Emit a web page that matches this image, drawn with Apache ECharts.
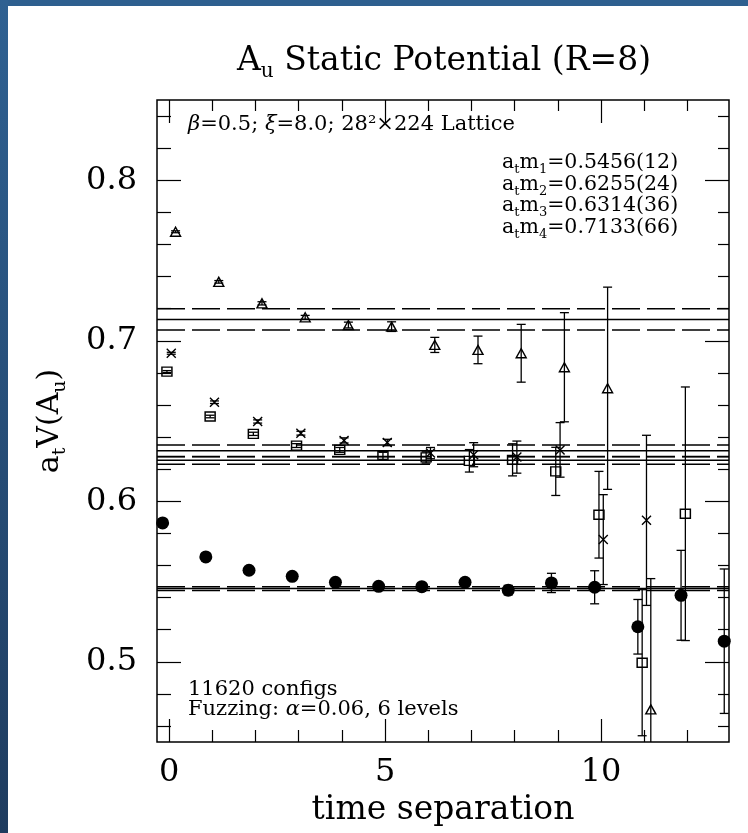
<!DOCTYPE html>
<html>
<head>
<meta charset="utf-8">
<script src="https://cdn.jsdelivr.net/npm/echarts@6/dist/echarts.min.js"></script>
<style>
html,body{margin:0;padding:0;background:#fff;}
#chart{width:748px;height:833px;}
</style>
</head>
<body>
<div id="chart"></div>
<script>
// ---------------- data ----------------
const timeSteps = [0, 1, 2, 3, 4, 5, 6, 7, 8, 9, 10, 11, 12, 13];

// level 1 (filled circles)
const level1Values = [0.5865, 0.5653, 0.5570, 0.5532, 0.5495, 0.5470, 0.5468, 0.5495, 0.5446, 0.5491, 0.5464, 0.5218, 0.5414, 0.5128];
const level1Errors = [0.0006, 0.0007, 0.0008, 0.0009, 0.0011, 0.0013, 0.0016, 0.0022, 0.0030, 0.0060, 0.0103, 0.0170, 0.0280, 0.0450];

// level 2 (open squares)
const level2Values = [0.6808, 0.6528, 0.6420, 0.6347, 0.6320, 0.6283, 0.6273, 0.6252, 0.6258, 0.6186, 0.5916, 0.4994, 0.5922];
const level2Errors = [0.0006, 0.0008, 0.0010, 0.0012, 0.0015, 0.0022, 0.0035, 0.0070, 0.0100, 0.0150, 0.0270, 0.0455, 0.0790];

// level 3 (crosses)
const level3Values = [0.6922, 0.6617, 0.6497, 0.6424, 0.6379, 0.6366, 0.6300, 0.6290, 0.6275, 0.6320, 0.5761, 0.5881];
const level3Errors = [0.0006, 0.0008, 0.0010, 0.0012, 0.0016, 0.0020, 0.0035, 0.0075, 0.0100, 0.0170, 0.0280, 0.0530];

// level 4 (open triangles)
const level4Values = [0.7679, 0.7367, 0.7233, 0.7146, 0.7098, 0.7088, 0.6974, 0.6943, 0.6922, 0.6835, 0.6704, 0.4703];
const level4Errors = [0.0006, 0.0008, 0.0010, 0.0012, 0.0018, 0.0030, 0.0047, 0.0086, 0.0180, 0.0340, 0.0630, 0.0815];

// fitted masses a_t m_i and errors
const fitMasses = [0.5456, 0.6255, 0.6314, 0.7133];
const fitErrors = [0.0012, 0.0024, 0.0036, 0.0066];

// axis ticks / labels
const xMajorTicks = [0, 5, 10];
const xMinorTicks = [1, 2, 3, 4, 6, 7, 8, 9, 11, 12];
const yMajorTicks = [0.5, 0.6, 0.7, 0.8];
const yMinorTicks = [0.46, 0.48, 0.52, 0.54, 0.56, 0.58, 0.62, 0.64, 0.66, 0.68, 0.72, 0.74, 0.76, 0.78, 0.82, 0.84];

// ---------------- layout / style ----------------
const FONT = 'DejaVu Serif';
const X_MIN = -0.28, X_MAX = 12.96, Y_MIN = 0.45, Y_MAX = 0.85;
const OFFSETS = [-0.15, -0.05, 0.05, 0.15];   // horizontal shift of each level
const INK = '#000';

function richMain(size, lh) {
  return { fontFamily: FONT, fontSize: size, lineHeight: lh, color: INK, fontWeight: 'normal' };
}
function richSub(size, lh) {
  return { fontFamily: FONT, fontSize: size, lineHeight: lh, color: INK, fontWeight: 'normal', verticalAlign: 'bottom' };
}
function richItal(size, lh) {
  return { fontFamily: FONT, fontSize: size, lineHeight: lh, color: INK, fontWeight: 'normal', fontStyle: 'italic' };
}

function mkX(position, ticks, len, withLabels) {
  const ax = {
    type: 'value', min: X_MIN, max: X_MAX, position: position, offset: 0,
    axisLine: { show: false, onZero: false },
    splitLine: { show: false },
    axisTick: { show: true, inside: true, length: len, customValues: ticks, lineStyle: { color: INK, width: 1.2 } },
    axisLabel: { show: false }
  };
  if (withLabels) {
    ax.axisLabel = {
      show: true, customValues: ticks, margin: 15,
      fontFamily: FONT, fontSize: 32, color: INK,
      formatter: function (v) { return String(Math.round(v)); }
    };
    ax.name = 'time separation';
    ax.nameLocation = 'middle';
    ax.nameGap = 48;
    ax.nameTextStyle = { fontFamily: FONT, fontSize: 33, color: INK };
  }
  return ax;
}

function mkY(position, ticks, len, withLabels) {
  const ax = {
    type: 'value', min: Y_MIN, max: Y_MAX, position: position, offset: 0,
    axisLine: { show: false, onZero: false },
    splitLine: { show: false },
    axisTick: { show: true, inside: true, length: len, customValues: ticks, lineStyle: { color: INK, width: 1.2 } },
    axisLabel: { show: false }
  };
  if (withLabels) {
    ax.axisLabel = {
      show: true, customValues: ticks, margin: 20,
      fontFamily: FONT, fontSize: 32, color: INK,
      formatter: function (v) { return v.toFixed(1); }
    };
    ax.name = '{n|a}{s|t}{n|V(A}{s|u}{n|)}';
    ax.nameLocation = 'middle';
    ax.nameRotate = 90;
    ax.nameGap = 87;
    ax.nameTextStyle = { rich: { n: richMain(30, 40), s: richSub(19, 18) } };
  }
  return ax;
}

function points(values, off) {
  return values.map(function (v, i) { return [timeSteps[i] + off, v]; });
}
function errRows(values, errs, off) {
  return values.map(function (v, i) { return [timeSteps[i] + off, v - errs[i], v + errs[i]]; });
}

function renderErr(params, api) {
  const x = api.value(0);
  const lo = api.coord([x, api.value(1)]);
  const hi = api.coord([x, api.value(2)]);
  const cw = 4.5;
  const st = { stroke: INK, lineWidth: 1.3 };
  return {
    type: 'group',
    children: [
      { type: 'line', shape: { x1: lo[0], y1: lo[1], x2: hi[0], y2: hi[1] }, style: st },
      { type: 'line', shape: { x1: lo[0] - cw, y1: lo[1], x2: lo[0] + cw, y2: lo[1] }, style: st },
      { type: 'line', shape: { x1: hi[0] - cw, y1: hi[1], x2: hi[0] + cw, y2: hi[1] }, style: st }
    ]
  };
}
function errSeries(values, errs, off) {
  return {
    type: 'custom', xAxisIndex: 0, yAxisIndex: 0, clip: true, silent: true, z: 3,
    renderItem: renderErr,
    encode: { x: 0, y: [1, 2] },
    data: errRows(values, errs, off)
  };
}

// fit bands: central value (solid) and +/- error (dashed), spanning the whole x range
const fitRows = [];
fitMasses.forEach(function (m, i) {
  fitRows.push([X_MIN, m, 0]);
  fitRows.push([X_MIN, m - fitErrors[i], 1]);
  fitRows.push([X_MIN, m + fitErrors[i], 1]);
});
function renderFit(params, api) {
  const v = api.value(1);
  const p1 = api.coord([X_MIN, v]);
  const p2 = api.coord([X_MAX, v]);
  return {
    type: 'line',
    shape: { x1: p1[0], y1: p1[1], x2: p2[0], y2: p2[1] },
    style: { stroke: INK, lineWidth: 1.5, lineDash: api.value(2) ? [28, 7] : null }
  };
}

const openStyle = { color: 'rgba(0,0,0,0)', borderColor: INK, borderWidth: 1.4, opacity: 1 };

const chart = echarts.init(document.getElementById('chart'), null, { renderer: 'canvas' });
chart.setOption({
  animation: false,
  backgroundColor: '#fff',
  title: {
    text: '{n|A}{s|u}{n| Static Potential (R=8)}',
    left: 439, top: 35, textAlign: 'center',
    textStyle: { fontWeight: 'normal', rich: { n: richMain(33, 42), s: richSub(20, 19) } }
  },
  grid: {
    left: 157, top: 100, width: 572, height: 642,
    show: true, borderColor: INK, borderWidth: 1.5, backgroundColor: 'rgba(0,0,0,0)'
  },
  xAxis: [
    mkX('bottom', xMajorTicks, 23, true),
    mkX('bottom', xMinorTicks, 12, false),
    mkX('top', xMajorTicks, 23, false),
    mkX('top', xMinorTicks, 11, false)
  ],
  yAxis: [
    mkY('left', yMajorTicks, 24, true),
    mkY('left', yMinorTicks, 14, false),
    mkY('right', yMajorTicks, 24, false),
    mkY('right', yMinorTicks, 11, false)
  ],
  graphic: [
    { type: 'rect', shape: { x: 0, y: 0, width: 748, height: 6 }, style: { fill: '#2e5f8f' }, silent: true },
    { type: 'rect', shape: { x: 0, y: 0, width: 8, height: 833 }, silent: true,
      style: { fill: new echarts.graphic.LinearGradient(0, 0, 0, 1, [{ offset: 0, color: '#2f6192' }, { offset: 1, color: '#1f3c5f' }]) } },
    { type: 'text', x: 188, y: 125, silent: true,
      style: { text: '{i|β}{n|=0.5; }{i|ξ}{n|=8.0; 28²×224 Lattice}', align: 'left', verticalAlign: 'middle',
        rich: { n: richMain(21, 24), i: richItal(21, 24) } } },
    { type: 'text', x: 502, y: 163, silent: true,
      style: { text: '{n|a}{s|t}{n|m}{s|1}{n|=0.5456(12)}', align: 'left', verticalAlign: 'middle', rich: { n: richMain(20.5, 26), s: richSub(13, 12) } } },
    { type: 'text', x: 502, y: 185, silent: true,
      style: { text: '{n|a}{s|t}{n|m}{s|2}{n|=0.6255(24)}', align: 'left', verticalAlign: 'middle', rich: { n: richMain(20.5, 26), s: richSub(13, 12) } } },
    { type: 'text', x: 502, y: 206, silent: true,
      style: { text: '{n|a}{s|t}{n|m}{s|3}{n|=0.6314(36)}', align: 'left', verticalAlign: 'middle', rich: { n: richMain(20.5, 26), s: richSub(13, 12) } } },
    { type: 'text', x: 502, y: 228, silent: true,
      style: { text: '{n|a}{s|t}{n|m}{s|4}{n|=0.7133(66)}', align: 'left', verticalAlign: 'middle', rich: { n: richMain(20.5, 26), s: richSub(13, 12) } } },
    { type: 'text', x: 188, y: 690, silent: true,
      style: { text: '11620 configs', align: 'left', verticalAlign: 'middle', fontFamily: FONT, fontSize: 21, fill: INK } },
    { type: 'text', x: 188, y: 710, silent: true,
      style: { text: '{n|Fuzzing: }{i|α}{n|=0.06, 6 levels}', align: 'left', verticalAlign: 'middle',
        rich: { n: richMain(21, 24), i: richItal(21, 24) } } }
  ],
  series: [
    {
      type: 'custom', xAxisIndex: 0, yAxisIndex: 0, z: 1, silent: true, clip: true,
      renderItem: renderFit, encode: { x: 0, y: 1 }, data: fitRows
    },
    errSeries(level1Values, level1Errors, OFFSETS[0]),
    errSeries(level2Values, level2Errors, OFFSETS[1]),
    errSeries(level3Values, level3Errors, OFFSETS[2]),
    errSeries(level4Values, level4Errors, OFFSETS[3]),
    { type: 'scatter', xAxisIndex: 0, yAxisIndex: 0, z: 4, silent: true, symbol: 'circle', symbolSize: 13,
      itemStyle: { color: INK, opacity: 1 }, data: points(level1Values, OFFSETS[0]) },
    { type: 'scatter', xAxisIndex: 0, yAxisIndex: 0, z: 4, silent: true, symbol: 'rect', symbolSize: [10, 9],
      itemStyle: openStyle, data: points(level2Values, OFFSETS[1]) },
    { type: 'scatter', xAxisIndex: 0, yAxisIndex: 0, z: 4, silent: true, symbol: 'path://M0,0L10,10M10,0L0,10', symbolSize: 9,
      itemStyle: openStyle, data: points(level3Values, OFFSETS[2]) },
    { type: 'scatter', xAxisIndex: 0, yAxisIndex: 0, z: 4, silent: true, symbol: 'triangle', symbolSize: [10, 9],
      itemStyle: openStyle, data: points(level4Values, OFFSETS[3]) }
  ]
});
</script>
</body>
</html>
